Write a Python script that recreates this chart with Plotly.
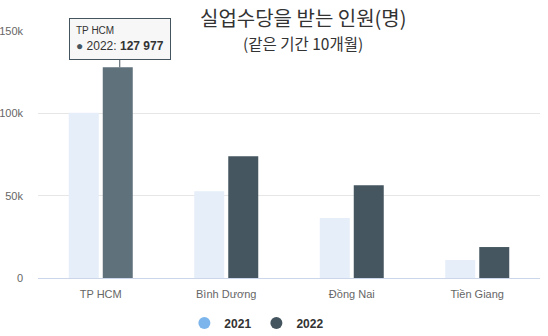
import plotly.graph_objects as go

categories = ["TP HCM", "Bình Dương", "Đồng Nai", "Tiền Giang"]
values_2021 = [100400, 52700, 36400, 10900]
values_2022 = [127977, 73900, 56400, 18800]
series_names = ["2021", "2022"]
tick_vals = [0, 50000, 100000, 150000]
tick_text = ["0", "50k", "100k", "150k"]

bar_2021 = ["#e6eef9"] * 4
bar_2022 = ["#5f717b", "#455660", "#455660", "#455660"]

fig = go.Figure()
fig.add_trace(go.Bar(x=categories, y=values_2021, name=series_names[0],
                     marker=dict(color=bar_2021, line_width=0), showlegend=False,
                     hoverinfo="skip"))
fig.add_trace(go.Bar(x=categories, y=values_2022, name=series_names[1],
                     marker=dict(color=bar_2022, line_width=0), showlegend=False,
                     hoverinfo="skip"))
# legend entries with circle symbols
fig.add_trace(go.Scatter(x=[None], y=[None], mode="markers", name="<b>" + series_names[0] + "</b>",
                         marker=dict(symbol="circle", size=12, color="#7cb5ec")))
fig.add_trace(go.Scatter(x=[None], y=[None], mode="markers", name="<b>" + series_names[1] + "</b>",
                         marker=dict(symbol="circle", size=12, color="#45555f")))

font_latin = "Liberation Sans, Arial, sans-serif"
font_kr = "Noto Sans CJK KR, sans-serif"

fig.update_layout(
    width=548, height=336,
    margin=dict(l=38, r=8, t=31, b=58, autoexpand=False),
    paper_bgcolor="white", plot_bgcolor="white",
    barmode="group", bargap=0.458, bargroupgap=0.118,
    font=dict(family=font_latin, color="#666666", size=11),
    xaxis=dict(showgrid=False, showline=True, linecolor="#ccd6eb", linewidth=1,
               ticks="", tickfont=dict(size=11, color="#666666"), ticklabelstandoff=6,
               fixedrange=True),
    yaxis=dict(range=[0, 150000], tickvals=tick_vals, ticktext=tick_text,
               showgrid=True, gridcolor="#e6e6e6", zeroline=False, showline=False,
               tickfont=dict(size=11, color="#666666"), ticklabelstandoff=14,
               fixedrange=True),
    legend=dict(orientation="h", x=0.436, xanchor="center", y=-0.182, yanchor="middle",
                font=dict(size=12, color="#333333", family=font_latin),
                traceorder="normal"),
    showlegend=True,
)

fig.add_annotation(text="실업수당을 받는 인원(명)", xref="paper", yref="paper",
                   x=289/548, xanchor="center", y=1, yshift=14, yanchor="middle",
                   showarrow=False, font=dict(family=font_kr, size=20, color="#333333"))
fig.add_annotation(text="(같은 기간 10개월)", xref="paper", yref="paper",
                   x=289/548, xanchor="center", y=1, yshift=-12, yanchor="middle",
                   showarrow=False, font=dict(family=font_kr, size=15.5, color="#333333"))

# tooltip
fig.add_annotation(
    text="<span style='font-size:10px;color:#333'>TP HCM</span><br>"
         "<span style='color:#45555f'>●</span> 2022: <b>127 977</b>",
    x=categories[0], y=values_2022[0], xref="x", yref="y",
    xshift=19, showarrow=True, arrowhead=0, arrowwidth=1, arrowcolor="#45555f",
    ax=0, ay=-28, align="left", bgcolor="rgba(247,247,247,0.95)",
    bordercolor="#45555f", borderwidth=1, borderpad=6,
    font=dict(size=12, color="#333333", family=font_latin),
)

fig.write_html("out.html")
